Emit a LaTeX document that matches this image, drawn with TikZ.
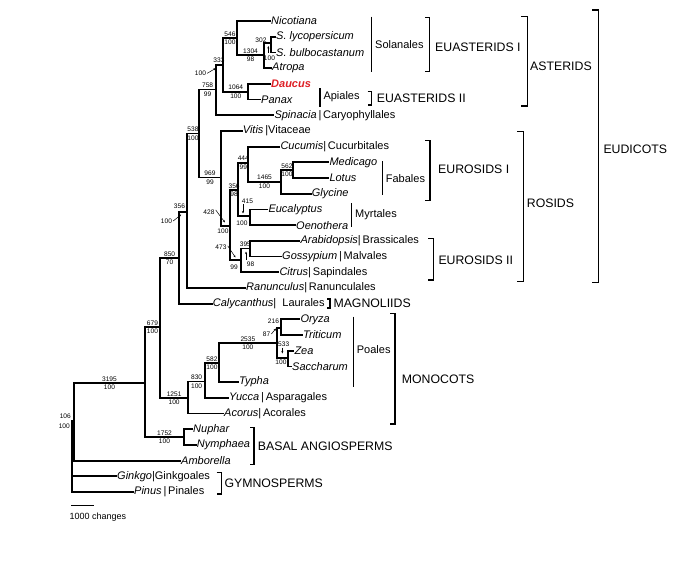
\documentclass[tikz,border=0pt]{standalone}
\usepackage{fontspec}
\setmainfont{Liberation Sans}
\usepackage{xcolor}
\usepackage{tikz}
\usetikzlibrary{arrows.meta}

\definecolor{daucusred}{RGB}{222,32,38}
\newcommand{\genus}[1]{\textit{#1}}
% branch from ancestor (#1) to descendant (#2), support above/below
\newcommand{\clade}[4]{\draw[branch] (#1) |- node[sup,pos=.75,above]{#3} node[sup,pos=.75,below]{#4} (#2);}
\newcommand{\clampR}[4]{\draw[brk] ({#1-#4},#2) -- (#1,#2) -- (#1,#3) -- ({#1-#4},#3);}

\begin{document}
\begin{tikzpicture}[
  x=1pt, y=-1pt,
  branch/.style={line width=1.8pt, line cap=rect},
  brk/.style={line width=1.3pt},
  tip/.style={anchor=west, inner xsep=1pt, inner ysep=0pt, font=\fontsize{11}{13}\selectfont},
  ordr/.style={anchor=west, inner sep=0pt, font=\fontsize{11}{13}\selectfont},
  grp/.style={anchor=west, inner sep=0pt, font=\fontsize{12.3}{14}\selectfont},
  sup/.style={inner sep=1pt, font=\fontsize{6.6}{7}\selectfont},
  supar/.style={-{Stealth[length=2.5pt,width=2pt]}, line width=0.5pt}
]
  \useasboundingbox (0,0) rectangle (685,570);

  % internal nodes
  \coordinate (root) at (72,421);
  \coordinate (ang) at (74,421);
  \coordinate (mes) at (145,383);
  \coordinate (nym) at (184,437);
  \coordinate (n679) at (160,327.3);
  \coordinate (mono) at (188.3,398);
  \coordinate (n830) at (205,381.5);
  \coordinate (n582) at (219,363.3);
  \coordinate (poa) at (276.7,343.3);
  \coordinate (ory) at (281,328);
  \coordinate (zea) at (288.3,358.3);
  \coordinate (n850) at (179.3,258.3);
  \coordinate (n356) at (186.7,211.7);
  \coordinate (core) at (199.3,133.5);
  \coordinate (ast) at (216,89.5);
  \coordinate (n333) at (223.3,65);
  \coordinate (sol) at (236.7,38.3);
  \coordinate (n1304) at (264.3,55);
  \coordinate (n302) at (270.7,43.3);
  \coordinate (api) at (248.3,91.6);
  \coordinate (ros) at (220.7,177.5);
  \coordinate (n428) at (230,226);
  \coordinate (n356r) at (238.3,190);
  \coordinate (n444) at (248.3,162.7);
  \coordinate (n1465) at (280.7,181.7);
  \coordinate (n562) at (293.3,170);
  \coordinate (n415) at (250,216.3);
  \coordinate (n473) at (240.7,260);
  \coordinate (n395) at (250,248.5);

  % taxa
  \node[tip] (nic) at (270,21) {\genus{Nicotiana}};
  \node[tip] (sly) at (275,36.7) {\genus{S. lycopersicum}};
  \node[tip] (sbu) at (275,52.4) {\genus{S. bulbocastanum}};
  \node[tip] (atr) at (271,68.1) {\genus{Atropa}};
  \node[tip] (dau) at (270,83.8) {\textcolor{daucusred}{\bfseries\itshape Daucus}};
  \node[tip] (pan) at (260,99.5) {\genus{Panax}};
  \node[tip] (spi) at (273.3,115.2) {\genus{Spinacia}\,|\,Caryophyllales};
  \node[tip] (vit) at (241.7,130.9) {\genus{Vitis}\,|Vitaceae};
  \node[tip] (cuc) at (279.3,146.6) {\genus{Cucumis}|\,Cucurbitales};
  \node[tip] (med) at (328.3,162.3) {\genus{Medicago}};
  \node[tip] (lot) at (328.3,178) {\genus{Lotus}};
  \node[tip] (gly) at (310.7,193.7) {\genus{Glycine}};
  \node[tip] (euc) at (267.3,209.4) {\genus{Eucalyptus}};
  \node[tip] (oen) at (295,225.1) {\genus{Oenothera}};
  \node[tip] (ara) at (299.3,240.8) {\genus{Arabidopsis}|\,Brassicales};
  \node[tip] (gos) at (281,256.5) {\genus{Gossypium}\,|\,Malvales};
  \node[tip] (cit) at (278.3,272.2) {\genus{Citrus}|\,Sapindales};
  \node[tip] (ran) at (245,287.9) {\genus{Ranunculus}|\,Ranunculales};
  \node[tip] (cal) at (211.7,303.6) {\genus{Calycanthus}|\ \ Laurales};
  \node[tip] (ory1) at (299.3,319.3) {\genus{Oryza}};
  \node[tip] (tri) at (302,335) {\genus{Triticum}};
  \node[tip] (zea1) at (293.3,350.7) {\genus{Zea}};
  \node[tip] (sac) at (291,366.4) {\genus{Saccharum}};
  \node[tip] (typ) at (238,382.1) {\genus{Typha}};
  \node[tip] (yuc) at (228,397.8) {\genus{Yucca}\,|\,Asparagales};
  \node[tip] (aco) at (223,413.5) {\genus{Acorus}|\,Acorales};
  \node[tip] (nup) at (192,429.2) {\genus{Nuphar}};
  \node[tip] (nyp) at (195.7,444.9) {\genus{Nymphaea}};
  \node[tip] (amb) at (180,460.6) {\genus{Amborella}};
  \node[tip] (gin) at (116,476.3) {\genus{Ginkgo}|Ginkgoales};
  \node[tip] (pin) at (133,492) {\genus{Pinus}\,|\,Pinales};

  % branches
  \clade{root}{ang}{}{}
  \clade{root}{gin.west}{}{}
  \clade{root}{pin.west}{}{}
  \clade{ang}{mes}{3195}{100}
  \clade{ang}{amb.west}{}{}
  \clade{mes}{n679}{679}{100}
  \clade{mes}{nym}{1752}{100}
  \clade{nym}{nup.west}{}{}
  \clade{nym}{nyp.west}{}{}
  \clade{n679}{n850}{850}{70}
  \clade{n679}{mono}{1251}{100}
  \clade{mono}{n830}{830}{100}
  \clade{mono}{aco.west}{}{}
  \clade{n830}{n582}{582}{100}
  \clade{n830}{yuc.west}{}{}
  \clade{n582}{poa}{2535}{100}
  \clade{n582}{typ.west}{}{}
  \clade{poa}{ory}{}{}
  \clade{poa}{zea}{}{}
  \clade{ory}{ory1.west}{}{}
  \clade{ory}{tri.west}{}{}
  \clade{zea}{zea1.west}{}{}
  \clade{zea}{sac.west}{}{}
  \clade{n850}{n356}{}{}
  \clade{n850}{cal.west}{}{}
  \clade{n356}{core}{538}{100}
  \clade{n356}{ran.west}{}{}
  \clade{core}{ast}{758}{99}
  \clade{core}{ros}{969}{99}
  \clade{ast}{n333}{}{}
  \clade{ast}{spi.west}{}{}
  \clade{n333}{sol}{546}{100}
  \clade{n333}{api}{1064}{100}
  \clade{sol}{nic.west}{}{}
  \clade{sol}{n1304}{1304}{98}
  \clade{n1304}{n302}{}{}
  \clade{n1304}{atr.west}{}{}
  \clade{n302}{sly.west}{}{}
  \clade{n302}{sbu.west}{}{}
  \clade{api}{dau.west}{}{}
  \clade{api}{pan.west}{}{}
  \clade{ros}{vit.west}{}{}
  \clade{ros}{n428}{}{}
  \clade{n428}{n356r}{356}{98}
  \clade{n428}{n473}{}{}
  \clade{n356r}{n444}{444}{99}
  \clade{n356r}{n415}{}{}
  \clade{n444}{cuc.west}{}{}
  \clade{n444}{n1465}{1465}{100}
  \clade{n1465}{n562}{562}{100}
  \clade{n1465}{gly.west}{}{}
  \clade{n562}{med.west}{}{}
  \clade{n562}{lot.west}{}{}
  \clade{n415}{euc.west}{}{}
  \clade{n415}{oen.west}{}{}
  \clade{n473}{n395}{395}{}
  \clade{n473}{cit.west}{}{}
  \clade{n395}{ara.west}{}{}
  \clade{n395}{gos.west}{}{}

  % crowded support values
  \node[sup, anchor=east] (s106) at (72,416.7) {106};
  \node[sup, anchor=east] (b106) at (71,426) {100};
  \node[sup] (s333) at (219,60) {333};
  \node[sup] (b333) at (200.5,73.3) {100};
  \draw[supar] (b333.east) -- ++(8.5,-5);
  \node[sup] (s356) at (179.5,206.7) {356};
  \node[sup] (b356) at (166.5,221) {100};
  \draw[supar] (b356.east) -- ++(8,-6.5);
  \node[sup] (s302) at (261,40) {302};
  \node[sup] (b302) at (269.5,58) {100};
  \draw[supar] (268.3,52.5) -- (268.3,46);
  \node[sup] (s428) at (209,212) {428};
  \node[sup] (b428) at (223,231) {100};
  \draw[supar] (s428.east) ++(0,-2) -- (225,222.5);
  \node[sup] (s473) at (221,247.3) {473};
  \node[sup] (b473) at (234,267) {99};
  \draw[supar] (s473.east) ++(0,-1.5) -- (235.5,257.5);
  \node[sup] (s415) at (247.5,201) {415};
  \node[sup] (b415) at (242,223.3) {100};
  \draw[supar] (243,204) -- (243,213.5);
  \node[sup] (b395) at (250.5,264) {98};
  \draw[supar] (246,259.5) -- (246,251.5);
  \node[sup] (s216) at (273.5,321.7) {216};
  \node[sup] (b216) at (266.5,334) {87};
  \draw[supar] (b216.east) -- (276,328.5);
  \node[sup] (s533) at (283.7,344.3) {533};
  \node[sup] (b533) at (281,362.7) {100};
  \draw[supar] (282.3,347.5) -- (282.3,353.5);

  % orders
  \draw[brk] (371.7,16.7) -- (371.7,71.7);
  \node[ordr] (solan) at (375,45) {Solanales};
  \draw[brk] (320,88) -- (320,106.7);
  \node[ordr] (apial) at (323.3,97) {Apiales};
  \draw[brk] (382.5,161) -- (382.5,195);
  \node[ordr] (fabal) at (385.7,178.3) {Fabales};
  \draw[brk] (351.7,203) -- (351.7,227);
  \node[ordr] (myrt) at (355,214.3) {Myrtales};
  \draw[brk] (353.3,316.7) -- (353.3,386.7);
  \node[ordr] (poal) at (356.7,349.3) {Poales};

  % groups
  \clampR{429.3}{17.3}{71.7}{4}
  \node[grp] (euast1) at (435,47) {EUASTERIDS I};
  \clampR{371.7}{91.7}{105}{4}
  \node[grp] (euast2) at (376.7,98) {EUASTERIDS II};
  \clampR{527.3}{16.7}{106}{6}
  \node[grp] (aster) at (530,66) {ASTERIDS};
  \clampR{430}{140.7}{200.7}{5}
  \node[grp] (euros1) at (438,169.3) {EUROSIDS I};
  \clampR{433.3}{238.3}{280}{5}
  \node[grp] (euros2) at (438.3,260) {EUROSIDS II};
  \clampR{523.3}{131.7}{281.7}{6}
  \node[grp] (rosid) at (526.7,203) {ROSIDS};
  \clampR{598.3}{10}{282.7}{6}
  \node[grp] (eudic) at (603.3,149.3) {EUDICOTS};
  \clampR{330}{299}{308}{3}
  \node[grp] (magno) at (333.3,303.6) {MAGNOLIIDS};
  \clampR{395}{313.3}{424}{5}
  \node[grp] (monoc) at (401.7,379.3) {MONOCOTS};
  \clampR{254}{427.3}{464.3}{4}
  \node[grp] (basal) at (257.7,446) {BASAL ANGIOSPERMS};
  \clampR{221.7}{472.7}{494}{5}
  \node[grp] (gymno) at (224.3,483.3) {GYMNOSPERMS};

  % scale
  \draw[brk] (71,505.3) coordinate (sc1) -- (94.3,505.3) coordinate (sc2);
  \node[anchor=west, inner sep=0pt, font=\fontsize{9}{10}\selectfont] (scale) at (69.5,516.7) {1000 changes};
\end{tikzpicture}
\end{document}
